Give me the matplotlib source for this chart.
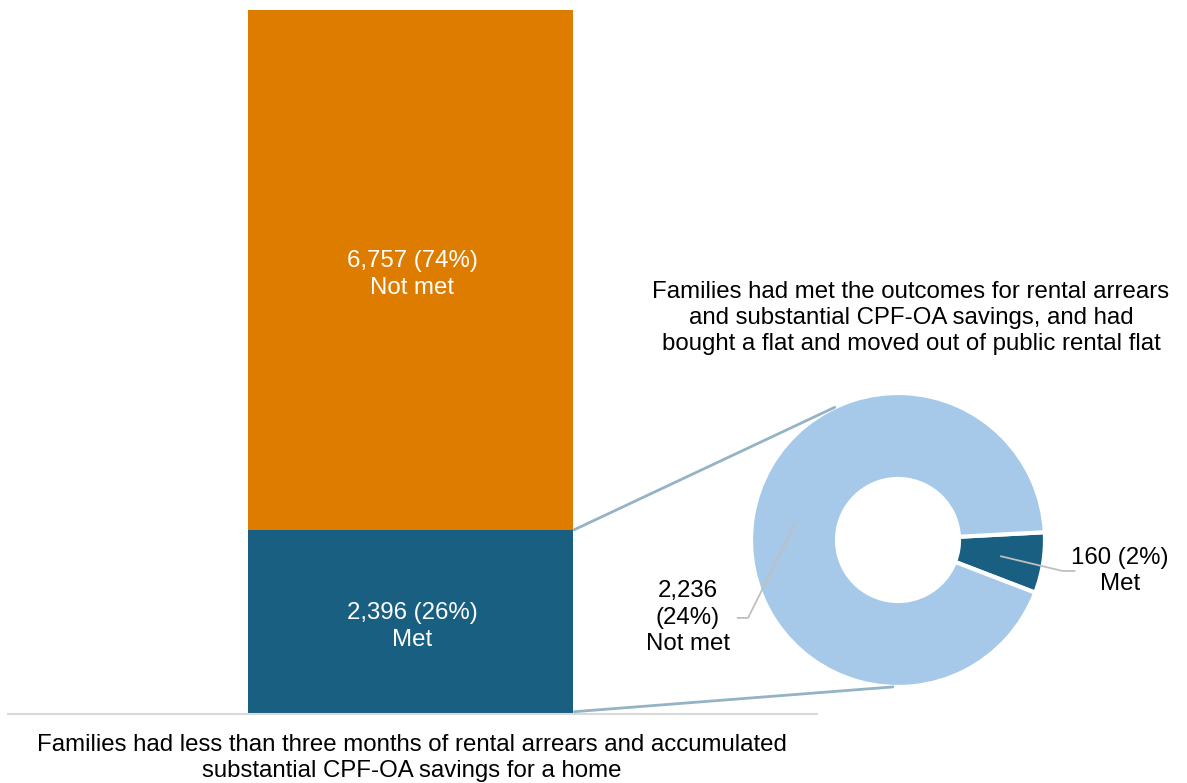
import numpy as np
import matplotlib
matplotlib.use("Agg")
import matplotlib.pyplot as plt
from matplotlib.patches import ConnectionPatch

plt.rcParams['font.family'] = ['Liberation Sans', 'DejaVu Sans']

# data
bar_labels = ["Met", "Not met"]
bar_values = [2396, 6757]
bar_pct = ["26%", "74%"]
pie_labels = ["Met", "Not met"]
pie_values = [160, 2236]
pie_pct = ["2%", "24%"]

orange = "#DE7C00"
dark = "#185F82"
light = "#A6C8E9"
link = "#94B3C5"
fs = 17.3
ls = 1.27

W, H = 1187, 783
fig = plt.figure(figsize=(W / 100, H / 100), dpi=100)

def px_axes(x0, y0, x1, y1):
    # pixel box (top-left origin) -> figure axes
    return fig.add_axes([x0 / W, 1 - y1 / H, (x1 - x0) / W, (y1 - y0) / H])

# stacked bar
ax = px_axes(8, 10, 817, 714)
total = sum(bar_values)
bottom = 0
for val, lab, pct, col in zip(bar_values, bar_labels, bar_pct, [dark, orange]):
    ax.bar(-0.005, val, bottom=bottom, width=0.805, color=col)
    ax.text(0, bottom + val / 2 - 60, f"{val:,} ({pct})\n{lab}", ha="center", va="center",
            color="white", fontsize=fs, linespacing=ls)
    bottom += val
ax.set_xlim(-1, 1)
ax.set_ylim(0, total)
for s in ["top", "left", "right"]:
    ax.spines[s].set_visible(False)
ax.spines["bottom"].set_color("#D9D9D9")
ax.spines["bottom"].set_linewidth(1.5)
ax.set_xticks([])
ax.set_yticks([])

# donut
pax = px_axes(751, 393, 1045, 687)
wedges, _ = pax.pie(pie_values, colors=[dark, light], startangle=-21, counterclock=True,
                    wedgeprops=dict(width=0.585, edgecolor="white", linewidth=3))
pax.set_xlim(-1, 1)
pax.set_ylim(-1, 1)
pax.set_aspect("equal")

def mid(w, r=0.71):
    a = np.deg2rad((w.theta1 + w.theta2) / 2)
    return r * np.cos(a), r * np.sin(a)

# met label
mx, my = mid(wedges[0])
pax.plot([mx, 1.12, 1.20], [my, my - 0.10, my - 0.10], color="#BFBFBF", lw=1.3, clip_on=False)
pax.text(1.51, my - 0.10, f"{pie_values[0]} ({pie_pct[0]})\n{pie_labels[0]}", ha="center",
         va="center", fontsize=fs, linespacing=ls)
# not met label
nx, ny = mid(wedges[1])
pax.plot([nx, -1.02, -1.09], [ny, -0.53, -0.53], color="#BFBFBF", lw=1.3, clip_on=False)
pax.text(-1.43, -0.53, f"{pie_values[1]:,}\n({pie_pct[1]})\n{pie_labels[1]}", ha="center",
         va="center", fontsize=fs, linespacing=ls)

# connectors bar -> donut
for yb, ang in [(bar_values[0], 115.5), (30, -92)]:
    a = np.deg2rad(ang)
    con = ConnectionPatch(xyA=(0.4, yb), coordsA=ax.transData,
                          xyB=(np.cos(a), np.sin(a)), coordsB=pax.transData,
                          color=link, lw=2)
    fig.add_artist(con)

fig.text(911 / W, 1 - 318 / H,
         "Families had met the outcomes for rental arrears\nand substantial CPF-OA savings, and had\n"
         "bought a flat and moved out of public rental flat",
         ha="center", va="center", fontsize=fs, linespacing=1.24)
fig.text(412 / W, 1 - 758 / H,
         "Families had less than three months of rental arrears and accumulated\n"
         "substantial CPF-OA savings for a home",
         ha="center", va="center", fontsize=fs, linespacing=1.19)

fig.savefig("out.png", dpi=100)
